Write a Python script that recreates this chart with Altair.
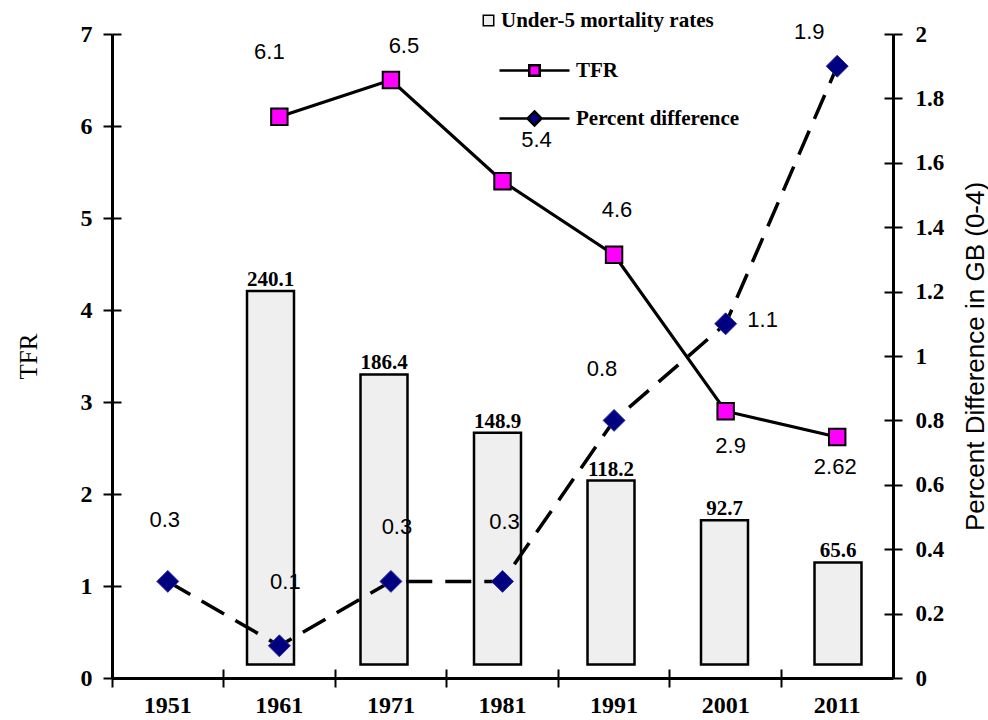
import altair as alt
import pandas as pd

# ---- data -------------------------------------------------------------
years = ["1951", "1961", "1971", "1981", "1991", "2001", "2011"]
under5_mortality = [None, 240.1, 186.4, 148.9, 118.2, 92.7, 65.6]
tfr = [None, 6.1, 6.5, 5.4, 4.6, 2.9, 2.62]
percent_difference = [0.3, 0.1, 0.3, 0.3, 0.8, 1.1, 1.9]

tfr_ticks = [0, 1, 2, 3, 4, 5, 6, 7]
pct_ticks = [0, 0.2, 0.4, 0.6, 0.8, 1, 1.2, 1.4, 1.6, 1.8, 2]

df = pd.DataFrame({
    "year": years,
    "under5": under5_mortality,
    "tfr": tfr,
    "pct": percent_difference,
})

# ---- layout / style ---------------------------------------------------
W, H = 781, 644
SERIF = "Liberation Serif"
SANS = "Liberation Sans"

band = dict(type="band", domain=years, paddingInner=0, paddingOuter=0)
x_main = alt.X("year:N", scale=alt.Scale(**band), axis=None)
# the columns use a slightly wider category spacing than the lines
x_bars = alt.X("year:N", scale=alt.Scale(**band, range=[-11.75, 782.75]), axis=None)

tfr_scale = alt.Scale(domain=[0, 7], nice=False, zero=False)
pct_scale = alt.Scale(domain=[0, 2], nice=False, zero=False)
u5_scale = alt.Scale(domain=[-8.7, 405.2], nice=False, zero=False)

tick_style = dict(tickSize=9, tickWidth=2, tickColor="black", grid=False)

x_axis = alt.Axis(orient="bottom", bandPosition=0, labelAngle=0,
                  labelFont=SERIF, labelFontWeight="bold", labelFontSize=24,
                  labelColor="black", labelPadding=6,
                  domainWidth=3, domainColor="black", title=None, **tick_style)

tfr_axis = alt.Axis(orient="left", values=tfr_ticks, format="~g",
                    labelFont=SERIF, labelFontWeight="bold", labelFontSize=24,
                    labelColor="black", labelPadding=11,
                    domainWidth=3, domainColor="black",
                    title="TFR", titleFont=SERIF, titleFontWeight="normal",
                    titleFontSize=25, titleColor="black", titleAngle=270,
                    titleX=-84, titleY=H / 2, titleAlign="center",
                    titleBaseline="middle", **tick_style)

pct_axis = alt.Axis(orient="right", values=pct_ticks, format="~g",
                    labelFont=SERIF, labelFontWeight="bold", labelFontSize=23,
                    labelColor="black", labelPadding=13,
                    domainWidth=3, domainColor="black",
                    title="Percent Difference in GB (0-4)", titleFont=SANS,
                    titleFontWeight="normal", titleFontSize=26,
                    titleColor="black", titleAngle=270,
                    titleX=82, titleY=H / 2, titleAlign="center",
                    titleBaseline="middle", **tick_style)

legend_text = dict(title=None, orient="none", padding=0, labelFont=SERIF,
                   labelFontWeight="bold", labelFontSize=21, labelLimit=0,
                   labelColor="black", symbolOpacity=1,
                   symbolStrokeColor="black")

TFR_SYMBOL = "M-1,0H-0.15M0.15,0H1M-0.15,-0.15H0.15V0.15H-0.15Z"
PCT_SYMBOL = "M-1,0H-0.2M0.2,0H1M0,-0.2L0.2,0L0,0.2L-0.2,0Z"

base = alt.Chart(df)

# ---- columns ----------------------------------------------------------
bar_fill = base.transform_calculate(series="'Under-5 mortality rates'").mark_bar(
    width=alt.RelativeBandSize(0.414), strokeWidth=0, opacity=1
).encode(
    x=x_bars,
    y=alt.Y("under5:Q", scale=u5_scale, axis=None),
    y2=alt.datum(0),
    fill=alt.Fill("series:N",
                  scale=alt.Scale(domain=["Under-5 mortality rates"], range=["#efefef"]),
                  legend=alt.Legend(legendX=366, legendY=-24, symbolType="square",
                                    symbolSize=110, symbolStrokeWidth=1.5,
                                    labelOffset=2, **legend_text)),
)

bar_outline = base.mark_bar(
    width=alt.RelativeBandSize(0.414), fill="transparent",
    stroke="black", strokeWidth=2.5, opacity=1
).encode(
    x=x_bars,
    y=alt.Y("under5:Q", scale=u5_scale, axis=None),
    y2=alt.datum(0),
)

bar_labels = base.mark_text(
    font=SERIF, fontWeight="bold", fontSize=21, color="black",
    baseline="alphabetic", align="center", dy=-5
).encode(
    x=x_bars,
    y=alt.Y("under5:Q", scale=u5_scale, axis=None),
    text=alt.Text("under5:Q", format="~g"),
)

# ---- lines and markers ------------------------------------------------
tfr_line = base.mark_line(color="black", strokeWidth=3.2).encode(
    x=alt.X("year:N", scale=alt.Scale(**band), axis=x_axis),
    y=alt.Y("tfr:Q", scale=tfr_scale, axis=tfr_axis),
)

pct_line = base.mark_line(color="black", strokeWidth=3.5, strokeDash=[26, 13]).encode(
    x=x_main,
    y=alt.Y("pct:Q", scale=pct_scale, axis=pct_axis),
)

tfr_points = base.transform_calculate(series="'TFR'").mark_point(
    shape="square", filled=True, size=270, stroke="black", strokeWidth=2, opacity=1
).encode(
    x=x_main,
    y=alt.Y("tfr:Q", scale=tfr_scale, axis=None),
    fill=alt.Fill("series:N", scale=alt.Scale(domain=["TFR"], range=["#ff00ff"]),
                  legend=alt.Legend(legendX=386, legendY=0, symbolType=TFR_SYMBOL,
                                    symbolSize=4900, symbolStrokeWidth=2.5,
                                    labelOffset=5, **legend_text)),
)

pct_points = base.transform_calculate(series="'Percent difference'").mark_point(
    shape="diamond", filled=True, size=480, stroke="#2a2aa0", strokeWidth=1, opacity=1
).encode(
    x=x_main,
    y=alt.Y("pct:Q", scale=pct_scale, axis=None),
    fill=alt.Fill("series:N", scale=alt.Scale(domain=["Percent difference"], range=["#000080"]),
                  legend=alt.Legend(legendX=386, legendY=48, symbolType=PCT_SYMBOL,
                                    symbolSize=4900, symbolStrokeWidth=2.5,
                                    labelOffset=5, **legend_text)),
)

# ---- value labels (each nudged off its marker) -----------------------
tfr_nudge = {"1961": (-10, -65), "1971": (13, -34), "1981": (34, -41),
             "1991": (3, -45), "2001": (5, 35), "2011": (-2, 30)}
pct_nudge = {"1951": (-3, -61), "1961": (6, -64), "1971": (6, -54),
             "1981": (2, -59), "1991": (-12, -51), "2001": (37, -4),
             "2011": (-28, -34)}


def value_labels(field, scale, nudges):
    layers = []
    for yr, (dx, dy) in nudges.items():
        layers.append(
            base.transform_filter(alt.datum.year == yr).mark_text(
                font=SANS, fontSize=22, color="black", align="center",
                baseline="middle", dx=dx, dy=dy
            ).encode(
                x=x_main,
                y=alt.Y(f"{field}:Q", scale=scale, axis=None),
                text=alt.Text(f"{field}:Q", format="~g"),
            )
        )
    return layers


tfr_labels = value_labels("tfr", tfr_scale, tfr_nudge)
pct_labels = value_labels("pct", pct_scale, pct_nudge)

# ---- inner halves of the axis ticks (ticks cross the axis lines) ------
inner_x = base.mark_point(opacity=0).encode(
    x=alt.X("year:N", scale=alt.Scale(**band),
            axis=alt.Axis(orient="top", offset=-H, bandPosition=0, labels=False,
                          domain=False, title=None, **tick_style)),
    y=alt.value(0),
)
inner_left = base.mark_point(opacity=0).encode(
    x=alt.value(0),
    y=alt.Y("pct:Q", scale=tfr_scale,
            axis=alt.Axis(orient="right", offset=-W, values=tfr_ticks, labels=False,
                          domain=False, title=None, **tick_style)),
)
inner_right = base.mark_point(opacity=0).encode(
    x=alt.value(0),
    y=alt.Y("pct:Q", scale=pct_scale,
            axis=alt.Axis(orient="left", offset=-W, values=pct_ticks, labels=False,
                          domain=False, title=None, **tick_style)),
)

chart = alt.layer(
    bar_fill, *pct_labels, bar_outline, bar_labels,
    tfr_line, pct_line, tfr_points, pct_points, *tfr_labels,
    inner_x, inner_left, inner_right,
).resolve_scale(
    x="independent", y="independent", fill="independent"
).properties(
    width=W, height=H,
    padding={"left": 112, "top": 34, "right": 95, "bottom": 42},
    autosize=alt.AutoSizeParams(type="none"),
    background="white",
).configure_view(strokeOpacity=0)

chart.save("out.html", embed_options={"renderer": "svg", "actions": False})
